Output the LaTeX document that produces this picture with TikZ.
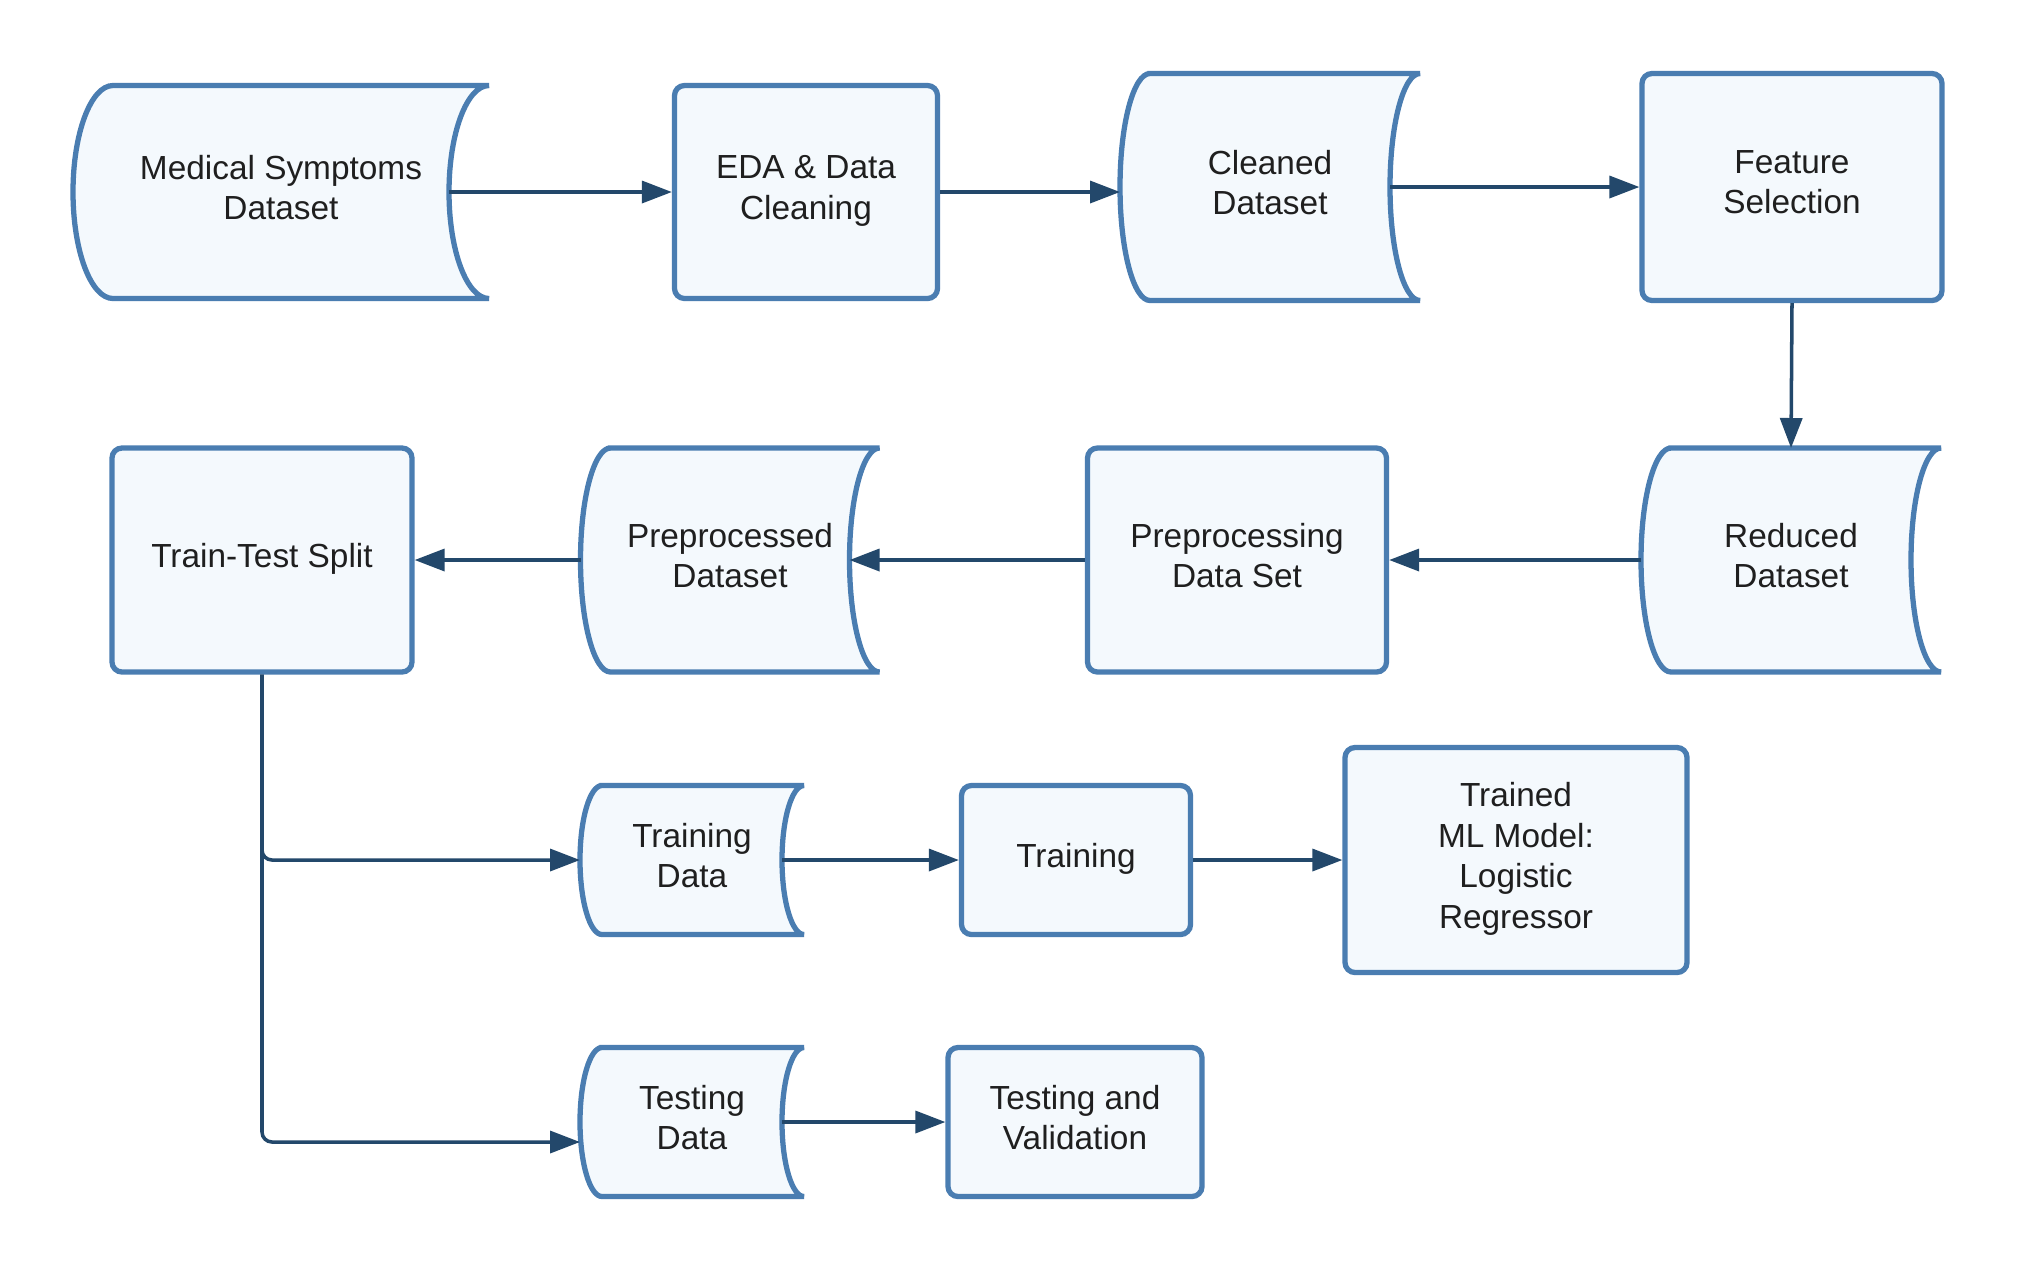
\documentclass[tikz,border=0pt]{standalone}
\usepackage{fontspec}
\setmainfont{Liberation Sans}
\usetikzlibrary{arrows.meta,backgrounds}
\definecolor{bordc}{HTML}{4A7DB1}
\definecolor{fillc}{HTML}{F4F9FD}
\definecolor{arrc}{HTML}{23486B}
\definecolor{txtc}{HTML}{1F1F1F}
\tikzset{
  lbl/.style={align=center, text=txtc, font=\fontsize{9.5}{11.5}\selectfont, inner sep=0pt, text depth=2.7pt},
  procbox/.style={lbl, draw=bordc, fill=fillc, line width=1.5pt, rounded corners=0.1cm},
  storenode/.style={lbl, draw=none, outer sep=0pt},
  storeline/.style={draw=bordc, fill=fillc, line width=1.5pt},
  conn/.style={draw=arrc, line width=1pt, -{Triangle[length=0.3cm,width=0.22cm]}},
}
\newcommand\storeshape[3]{%
  \path[storeline] ([xshift=#2]#1.north west) -- (#1.north east)
    arc[start angle=90,end angle=270,x radius=#2,y radius=#3]
    -- ([xshift=#2]#1.south west)
    arc[start angle=270,end angle=90,x radius=#2,y radius=#3] -- cycle;}
\begin{document}
\begin{tikzpicture}
\useasboundingbox (0,0) rectangle (20.18,-12.75);
% row 1
\node[storenode, minimum width=4.16cm, minimum height=2.13cm] (msd) at (2.81,-1.92) {Medical Symptoms\\Dataset};
\node[procbox, minimum width=2.63cm, minimum height=2.13cm] (eda) at (8.06,-1.92) {EDA \& Data\\Cleaning};
\node[storenode, minimum width=3.00cm, minimum height=2.27cm] (clean) at (12.70,-1.87) {Cleaned\\Dataset};
\node[procbox, minimum width=3.00cm, minimum height=2.27cm] (fs) at (17.92,-1.87) {Feature\\Selection};
% row 2
\node[procbox, minimum width=3.00cm, minimum height=2.24cm] (tts) at (2.62,-5.60) {Train-Test Split};
\node[storenode, minimum width=2.99cm, minimum height=2.24cm] (ppd) at (7.30,-5.60) {Preprocessed\\Dataset};
\node[procbox, minimum width=2.99cm, minimum height=2.24cm] (pp) at (12.37,-5.60) {Preprocessing\\Data Set};
\node[storenode, minimum width=3.00cm, minimum height=2.24cm] (red) at (17.91,-5.60) {Reduced\\Dataset};
% row 3
\node[storenode, minimum width=2.24cm, minimum height=1.49cm] (traind) at (6.92,-8.60) {Training\\Data};
\node[procbox, minimum width=2.29cm, minimum height=1.49cm] (train) at (10.76,-8.60) {Training};
\node[procbox, minimum width=3.42cm, minimum height=2.25cm] (model) at (15.16,-8.60) {Trained\\ML Model:\\Logistic\\Regressor};
% row 4
\node[storenode, minimum width=2.24cm, minimum height=1.49cm] (testd) at (6.92,-11.22) {Testing\\Data};
\node[procbox, minimum width=2.54cm, minimum height=1.49cm] (tv) at (10.75,-11.22) {Testing and\\Validation};
% stored-data outlines behind text
\begin{scope}[on background layer]
\fill[white] (0,0) rectangle (20.18,-12.75);
\storeshape{msd}{0.40cm}{1.065cm}
\storeshape{clean}{0.30cm}{1.135cm}
\storeshape{ppd}{0.30cm}{1.12cm}
\storeshape{red}{0.30cm}{1.12cm}
\storeshape{traind}{0.22cm}{0.745cm}
\storeshape{testd}{0.22cm}{0.745cm}
\end{scope}
% connectors
\draw[conn] ([xshift=-0.40cm]msd.east) -- (eda.west);
\draw[conn] (eda.east) -- (eda.east -| clean.west);
\draw[conn] ([xshift=-0.30cm]clean.east) -- (fs.west);
\draw[conn] (fs.south) -- (red.north);
\draw[conn] (red.west) -- (pp.east);
\draw[conn] (pp.west) -- ([xshift=-0.30cm]ppd.east);
\draw[conn] (ppd.west) -- (tts.east);
\draw[conn, rounded corners=0.1cm] (tts.south) |- (traind.west);
\draw[conn, rounded corners=0.1cm] (tts.south) |- ([yshift=-0.2cm]testd.west);
\draw[conn] ([xshift=-0.22cm]traind.east) -- (train.west);
\draw[conn] (train.east) -- (model.west);
\draw[conn] ([xshift=-0.22cm]testd.east) -- (tv.west);
\end{tikzpicture}
\end{document}
